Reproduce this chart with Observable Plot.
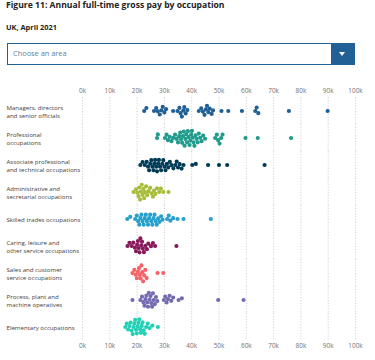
<!DOCTYPE html>
<html>
<head>
<meta charset="utf-8">
<script src="https://cdn.jsdelivr.net/npm/d3@7"></script>
<script src="https://cdn.jsdelivr.net/npm/@observablehq/plot@0.6"></script>
<style>
  body { margin: 0; width: 375px; height: 360px; overflow: hidden; background: #fff; font-family: "Open Sans", sans-serif; position: relative; }
  #title { position: absolute; left: 6px; top: -1px; font-size: 8.6px; font-weight: 700; color: #222; white-space: nowrap; }
  #subtitle { position: absolute; left: 6px; top: 22px; font-size: 7.4px; font-weight: 700; color: #222; white-space: nowrap; }
  #dropdown { position: absolute; left: 7px; top: 43px; width: 346px; height: 20px; border: 1px solid #206095; background: #fff; }
  #dropdown span { position: absolute; left: 5px; top: 4px; font-size: 7.4px; color: #5b7fa3; }
  #btn { position: absolute; right: 0; top: 0; width: 23px; height: 20px; background: #206095; }
  #btn:after { content: ""; position: absolute; left: 8px; top: 8px; border-left: 3.5px solid transparent; border-right: 3.5px solid transparent; border-top: 4px solid #fff; }
  #chart { position: absolute; left: 0; top: 72px; }
</style>
</head>
<body>
<div id="title">Figure 11: Annual full-time gross pay by occupation</div>
<div id="subtitle">UK, April 2021</div>
<div id="dropdown"><span>Choose an area</span><div id="btn"></div></div>
<div id="chart"></div>
<script>
const occupations = [
  "Managers, directors\nand senior officials",
  "Professional\noccupations",
  "Associate professional\nand technical occupations",
  "Administrative and\nsecretarial occupations",
  "Skilled trades occupations",
  "Caring, leisure and\nother service occupations",
  "Sales and customer\nservice occupations",
  "Process, plant and\nmachine operatives",
  "Elementary occupations"
];
const colors = ["#206095", "#1f9c8c", "#003c57", "#a8bd3a", "#27a0cc", "#871a5b", "#f66068", "#746cb1", "#22d0b6"];
const xTicks = [0, 10000, 20000, 30000, 40000, 50000, 60000, 70000, 80000, 90000, 100000];

// Annual pay, £ thousands, one dot per area
const managers = [22.6, 23.4, 26.2, 27.0, 27.6, 28.3, 28.9, 29.4, 30.0, 30.6, 33.2, 34.8, 35.5, 35.9, 36.4, 36.9, 37.3, 37.8, 38.4, 42.6, 43.5, 44.1, 44.7, 45.2, 45.6, 46.1, 46.6, 47.3, 47.8, 50.9, 53.4, 58.4, 63.3, 63.8, 64.4, 75.6, 89.8];
const professional = [27.3, 27.6, 30.2, 30.8, 31.3, 31.9, 32.6, 33.2, 33.9, 34.5, 35.0, 35.4, 35.8, 36.1, 36.5, 36.8, 37.1, 37.4, 37.7, 38.0, 38.3, 38.6, 38.9, 39.2, 39.5, 39.8, 40.1, 40.4, 40.7, 41.0, 41.4, 41.8, 42.2, 42.6, 43.1, 43.6, 44.2, 44.9, 48.6, 49.2, 49.7, 50.2, 50.8, 51.3, 59.7, 64.2, 76.4];
const associate = [21.2, 22.0, 22.8, 23.5, 24.0, 24.4, 24.8, 25.2, 25.6, 26.0, 26.3, 26.6, 27.0, 27.3, 27.7, 28.0, 28.4, 28.8, 29.2, 29.6, 30.0, 30.4, 30.9, 31.4, 32.0, 32.6, 33.3, 34.0, 34.5, 35.0, 35.6, 36.3, 37.0, 40.2, 41.5, 46.0, 50.0, 53.0, 66.7];
const administrative = [18.7, 19.6, 20.1, 20.5, 20.8, 21.1, 21.4, 21.7, 22.0, 22.3, 22.6, 22.9, 23.3, 23.7, 24.2, 24.8, 25.3, 25.8, 26.2, 26.7, 27.3, 28.1, 28.7, 29.6, 31.5];
const skilled = [16.4, 17.5, 19.3, 19.9, 20.4, 20.8, 21.2, 21.6, 22.0, 22.4, 22.8, 23.2, 23.6, 24.0, 24.4, 24.8, 25.2, 25.6, 26.0, 26.4, 26.8, 27.2, 27.7, 28.2, 28.8, 29.3, 31.0, 31.6, 32.2, 33.2, 34.8, 37.0, 47.0];
const caring = [16.5, 17.2, 18.0, 18.6, 19.2, 19.6, 20.0, 20.3, 20.6, 20.9, 21.2, 21.5, 21.8, 22.1, 22.5, 23.0, 23.6, 24.1, 25.1, 25.8, 26.6, 34.4];
const sales = [18.3, 19.0, 19.5, 19.9, 20.3, 20.7, 21.0, 21.3, 21.6, 21.9, 22.2, 22.6, 23.0, 23.5, 27.5, 29.6];
const process = [18.3, 21.2, 21.8, 22.3, 22.7, 23.1, 23.4, 23.7, 24.0, 24.3, 24.6, 24.9, 25.2, 25.5, 25.8, 26.1, 26.5, 26.9, 27.4, 29.8, 30.3, 30.8, 31.3, 31.9, 32.5, 33.2, 35.2, 36.4, 49.7, 59.0];
const elementary = [15.7, 16.2, 16.7, 17.2, 17.6, 18.0, 18.4, 18.7, 19.0, 19.3, 19.6, 19.9, 20.2, 20.5, 20.8, 21.1, 21.4, 21.7, 22.0, 22.4, 22.8, 23.3, 23.9, 24.6, 25.6, 27.6];

const series = [managers, professional, associate, administrative, skilled, caring, sales, process, elementary];
const data = series.flatMap((vals, i) => vals.map(v => ({occ: occupations[i], value: v * 1000})));
const labelData = occupations.map(o => ({occ: o}));

const fmt = d => d / 1000 + "k";

const chart = Plot.plot({
  width: 375,
  height: 288,
  marginTop: 21,
  marginBottom: 16,
  marginLeft: 82,
  marginRight: 20,
  style: {fontFamily: "Open Sans", fontSize: "6.4px", color: "#707070", background: "#fff"},
  x: {domain: [0, 100000], axis: null},
  fy: {domain: occupations, padding: 0, axis: null},
  color: {domain: occupations, range: colors},
  marks: [
    Plot.gridX(xTicks, {stroke: "#c8c8c8", strokeOpacity: 1, strokeDasharray: "1.2,1.6", strokeWidth: 0.8}),
    Plot.axisX(xTicks, {anchor: "top", label: null, tickSize: 0, tickPadding: 5, tickFormat: fmt, fill: "#707070"}),
    Plot.axisX(xTicks, {anchor: "bottom", label: null, tickSize: 0, tickPadding: 3, tickFormat: fmt, fill: "#707070"}),
    Plot.text(labelData, {fy: "occ", text: "occ", frameAnchor: "left", dx: -76, textAnchor: "start", lineAnchor: "middle", fill: "#414042", fontSize: 6.1, lineHeight: 1.32}),
    Plot.dot(data, Plot.dodgeY("middle", {x: "value", fy: "occ", r: 1.35, padding: 0, fill: "occ", stroke: "occ", strokeWidth: 1.5}))
  ]
});
document.getElementById("chart").appendChild(chart);
</script>
</body>
</html>
